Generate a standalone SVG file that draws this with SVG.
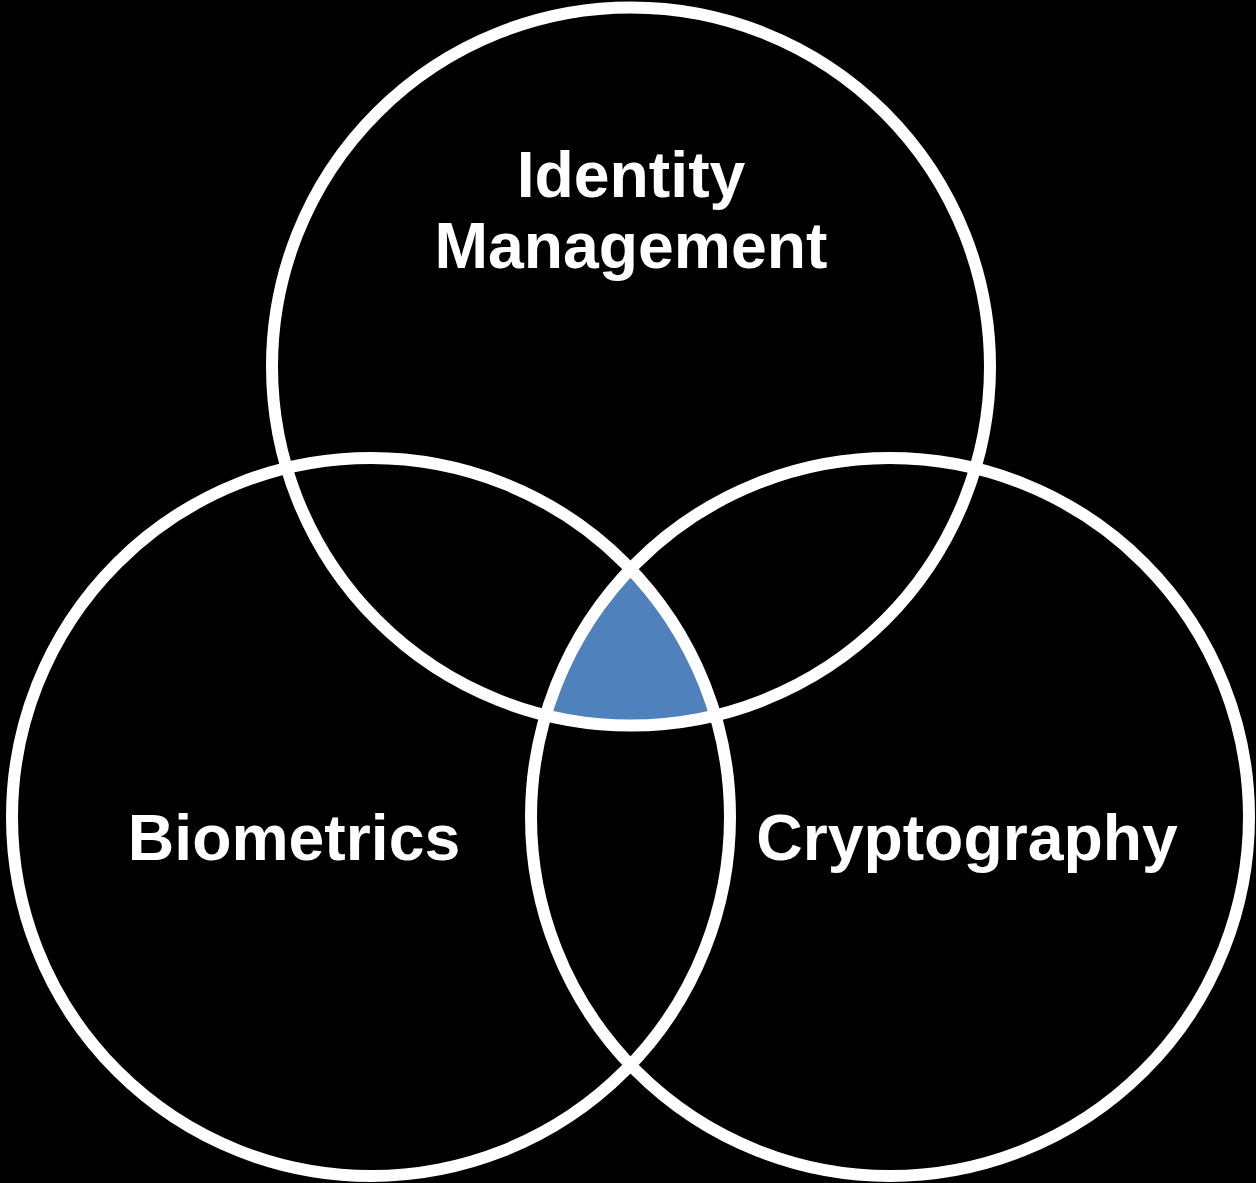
<svg xmlns="http://www.w3.org/2000/svg" width="1256" height="1183" viewBox="0 0 1256 1183">
<style>
.ring{fill:none;stroke:#ffffff;stroke-width:12}
.lbl{fill:#ffffff;font-family:"Liberation Sans",Arial,Helvetica,sans-serif;font-weight:bold;font-size:64.3px;text-anchor:middle}
</style>
<rect x="0" y="0" width="1256" height="1183" fill="#000000"/>
<g id="center-overlap">
<path d="M631,569 A359,359 0 0 0 546.7,715.5 A359,359 0 0 0 715.3,715.5 A359,359 0 0 0 631,569 Z" fill="#4f81bd"/>
</g>
<g id="identity-management">
<circle class="ring" cx="631" cy="366.5" r="359"/>
<text class="lbl" x="631" y="197">Identity</text>
<text class="lbl" x="631" y="268">Management</text>
</g>
<g id="biometrics">
<circle class="ring" cx="371" cy="817" r="359"/>
<text class="lbl" x="294" y="860">Biometrics</text>
</g>
<g id="cryptography">
<circle class="ring" cx="890" cy="817" r="359"/>
<text class="lbl" x="967" y="860">Cryptography</text>
</g>
<g id="connectors"></g>
</svg>
